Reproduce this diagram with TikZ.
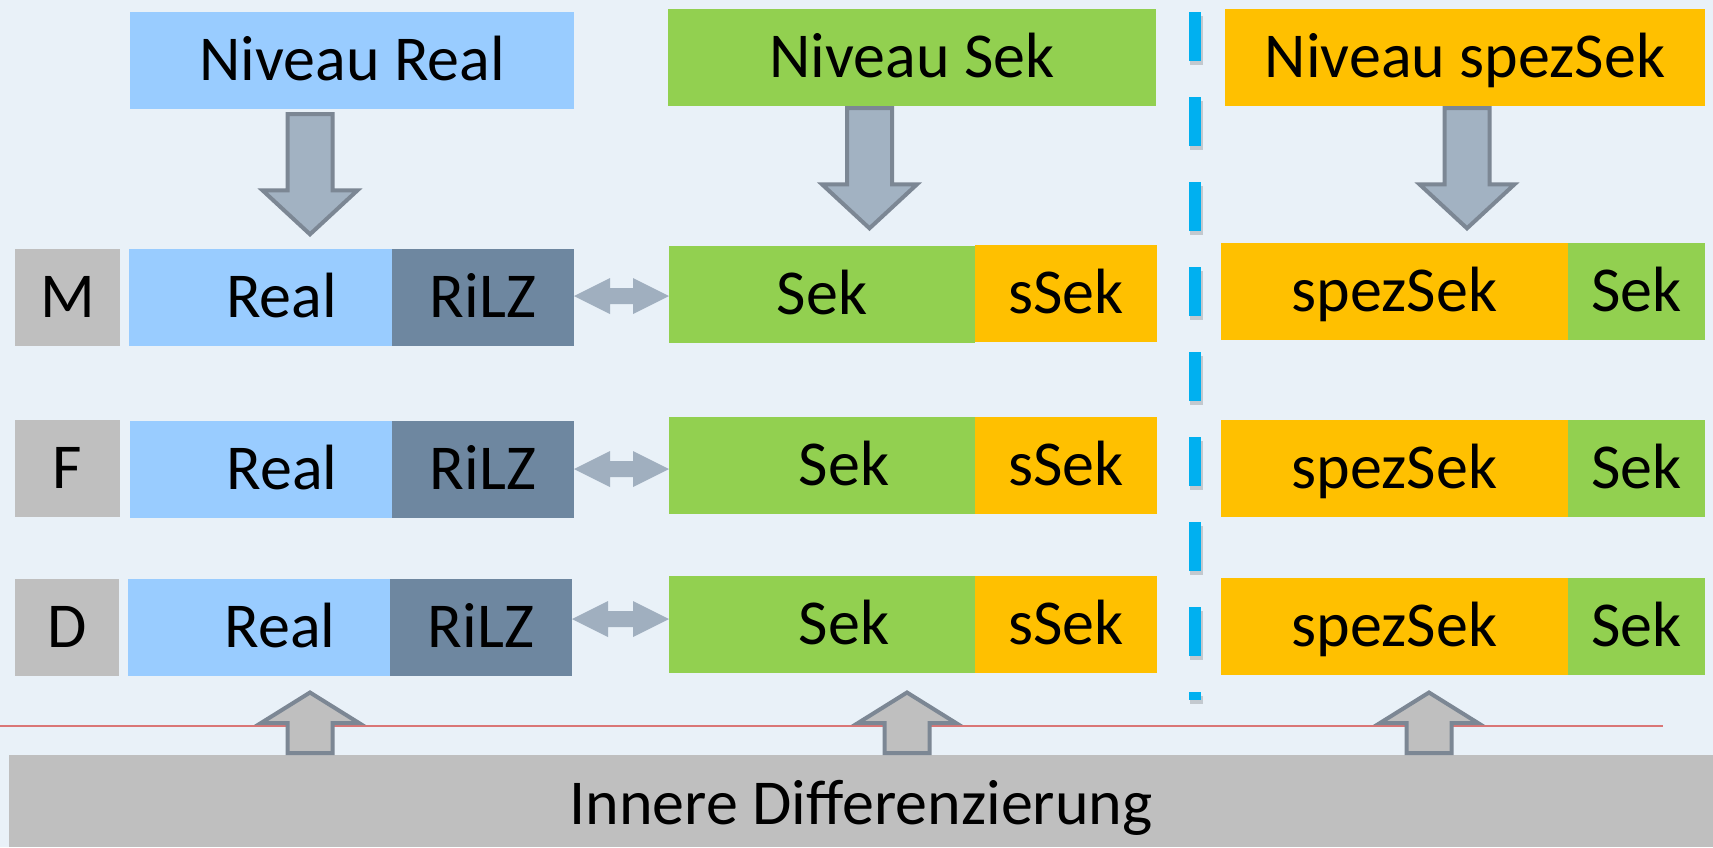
\documentclass[tikz,border=0pt]{standalone}
\usepackage{fontspec}
\setmainfont{Carlito}
\usetikzlibrary{calc}
\definecolor{bg}{HTML}{E9F1F8}
\definecolor{cReal}{HTML}{99CCFF}
\definecolor{cRilz}{HTML}{6E87A0}
\definecolor{cSek}{HTML}{92D050}
\definecolor{cSpez}{HTML}{FFC000}
\definecolor{cGray}{HTML}{BFBFBF}
\definecolor{cArr}{HTML}{A2B2C2}
\definecolor{cArrLine}{HTML}{7C8794}
\definecolor{cDbl}{HTML}{A0AFBF}
\definecolor{cDash}{HTML}{00B0F0}
\definecolor{cShadow}{HTML}{C3C9CF}
\definecolor{cRed}{HTML}{DA7676}
% block arrow: style, from, tip, stem half width, head half width, head length
\newcommand{\blockarrow}[6]{%
  \coordinate (hb) at ($(#3)!#6!(#2)$);
  \draw[#1] ($(#2)!#4!90:(#3)$) -- ($(hb)!#4!90:(#3)$) -- ($(hb)!#5!90:(#3)$) -- (#3)
    -- ($(hb)!#5!-90:(#3)$) -- ($(hb)!#4!-90:(#3)$) -- ($(#2)!#4!-90:(#3)$) -- cycle;
}
% double block arrow: style, tip a, tip b, shaft half, head half, head length
\newcommand{\dblarrow}[6]{%
  \coordinate (h1) at ($(#2)!#6!(#3)$);
  \coordinate (h2) at ($(#3)!#6!(#2)$);
  \fill[#1] (#2) -- ($(h1)!#5!90:(#3)$) -- ($(h1)!#4!90:(#3)$) -- ($(h2)!#4!-90:(#2)$)
    -- ($(h2)!#5!-90:(#2)$) -- (#3) -- ($(h2)!#5!90:(#2)$) -- ($(h2)!#4!90:(#2)$)
    -- ($(h1)!#4!-90:(#3)$) -- ($(h1)!#5!-90:(#3)$) -- cycle;
}
\begin{document}
\begin{tikzpicture}[x=1pt,y=-1pt,
  box/.style={rectangle, inner sep=0pt, outer sep=0pt, anchor=north west,
    text height=40.5pt, text depth=0pt, font=\fontsize{64}{72}\selectfont, text=black},
  downarr/.style={fill=cArr, draw=cArrLine, line width=4pt, miter limit=10},
  uparr/.style={fill=cGray, draw=cArrLine, line width=4pt, miter limit=10},
  dbl/.style={fill=cDbl},
  sep/.style={draw=cDash, line width=12pt, dash pattern=on 49pt off 36pt},
  sepshadow/.style={draw=cShadow, line width=13pt, dash pattern=on 49pt off 36pt},
  redline/.style={draw=cRed, line width=2pt}]

\fill[bg] (0,0) rectangle (1713,847);
\useasboundingbox (0,0) rectangle (1713,847);

% red line
\coordinate (r1) at (0,726);
\coordinate (r2) at (1663,726);
\draw[redline] (r1) -- (r2);

% bottom box
\node[box, fill=cGray, minimum width=1704pt, minimum height=92pt, text height=47.5pt] (inner) at (9,755) {Innere Differenzierung};

% dashed separator
\coordinate (d1) at (1195,12);
\coordinate (d2) at (1195,700);
\draw[sepshadow] ([shift={(1,4)}]d1) -- ([shift={(1,4)}]d2);
\draw[sep] (d1) -- (d2);

% top level boxes
\node[box, fill=cReal, minimum width=444pt, minimum height=97pt] (nReal) at (130,12) {Niveau Real};
\node[box, fill=cSek,  minimum width=488pt, minimum height=97pt] (nSek)  at (668,9) {Niveau Sek};
\node[box, fill=cSpez, minimum width=480pt, minimum height=97pt] (nSpez) at (1225,9) {Niveau spezSek};

% row M
\node[box, fill=cGray, minimum width=105pt, minimum height=97pt] (mLab)  at (15,249) {M};
\node[box, fill=cReal, minimum width=263pt, minimum height=97pt] (mReal) at (129,249) {\hspace*{42pt}Real};
\node[box, fill=cRilz, minimum width=182pt, minimum height=97pt] (mRilz) at (392,249) {RiLZ};
\node[box, fill=cSek,  minimum width=306pt, minimum height=97pt] (mSek)  at (669,246) {Sek};
\node[box, fill=cSpez, minimum width=182pt, minimum height=97pt] (mSsek) at (975,245) {sSek};
\node[box, fill=cSpez, minimum width=347pt, minimum height=97pt] (mSpez) at (1221,243) {spezSek};
\node[box, fill=cSek,  minimum width=137pt, minimum height=97pt] (mSekB) at (1568,243) {Sek};

% row F
\node[box, fill=cGray, minimum width=105pt, minimum height=97pt] (fLab)  at (15,420) {F};
\node[box, fill=cReal, minimum width=262pt, minimum height=97pt] (fReal) at (130,421) {\hspace*{42pt}Real};
\node[box, fill=cRilz, minimum width=182pt, minimum height=97pt] (fRilz) at (392,421) {RiLZ};
\node[box, fill=cSek,  minimum width=306pt, minimum height=97pt] (fSek)  at (669,417) {\hspace*{44pt}Sek};
\node[box, fill=cSpez, minimum width=182pt, minimum height=97pt] (fSsek) at (975,417) {sSek};
\node[box, fill=cSpez, minimum width=347pt, minimum height=97pt] (fSpez) at (1221,420) {spezSek};
\node[box, fill=cSek,  minimum width=137pt, minimum height=97pt] (fSekB) at (1568,420) {Sek};

% row D
\node[box, fill=cGray, minimum width=104pt, minimum height=97pt] (dLab)  at (15,579) {D};
\node[box, fill=cReal, minimum width=262pt, minimum height=97pt] (dReal) at (128,579) {\hspace*{42pt}Real};
\node[box, fill=cRilz, minimum width=182pt, minimum height=97pt] (dRilz) at (390,579) {RiLZ};
\node[box, fill=cSek,  minimum width=306pt, minimum height=97pt] (dSek)  at (669,576) {\hspace*{44pt}Sek};
\node[box, fill=cSpez, minimum width=182pt, minimum height=97pt] (dSsek) at (975,576) {sSek};
\node[box, fill=cSpez, minimum width=347pt, minimum height=97pt] (dSpez) at (1221,578) {spezSek};
\node[box, fill=cSek,  minimum width=137pt, minimum height=97pt] (dSekB) at (1568,578) {Sek};

% double arrows between Real and Sek rows
\coordinate (mA1) at ([yshift=1.5pt]mRilz.east);
\coordinate (mA2) at (mA1 -| mSek.west);
\coordinate (fA1) at ([yshift=0.5pt]fRilz.east);
\coordinate (fA2) at (fA1 -| fSek.west);
\coordinate (dA1) at ([yshift=8.5pt]dRilz.east);
\coordinate (dA2) at (dA1 -| dSek.west);
\dblarrow{dbl}{mA1}{mA2}{8pt}{18pt}{36pt}
\dblarrow{dbl}{fA1}{fA2}{8pt}{18pt}{36pt}
\dblarrow{dbl}{dA1}{dA2}{8pt}{18pt}{36pt}

% down arrows from levels to rows
\coordinate (aR1) at (310,114);
\coordinate (aR2) at (310,234.3);
\coordinate (aS1) at (869.5,108);
\coordinate (aS2) at (869.5,228.3);
\coordinate (aP1) at (1467,108);
\coordinate (aP2) at (1467,228.3);
\blockarrow{downarr}{aR1}{aR2}{22.5pt}{47.5pt}{44pt}
\blockarrow{downarr}{aS1}{aS2}{22.5pt}{47.5pt}{44pt}
\blockarrow{downarr}{aP1}{aP2}{22.5pt}{47.5pt}{44pt}

% up arrows from inner differentiation
\coordinate (uR1) at (310,753);
\coordinate (uR2) at (310,692.5);
\coordinate (uS1) at (907,753);
\coordinate (uS2) at (907,692.5);
\coordinate (uP1) at (1429,753);
\coordinate (uP2) at (1429,692.5);
\blockarrow{uparr}{uR1}{uR2}{22.5pt}{49pt}{30.5pt}
\blockarrow{uparr}{uS1}{uS2}{22.5pt}{49pt}{30.5pt}
\blockarrow{uparr}{uP1}{uP2}{22.5pt}{49pt}{30.5pt}
\end{tikzpicture}
\end{document}
